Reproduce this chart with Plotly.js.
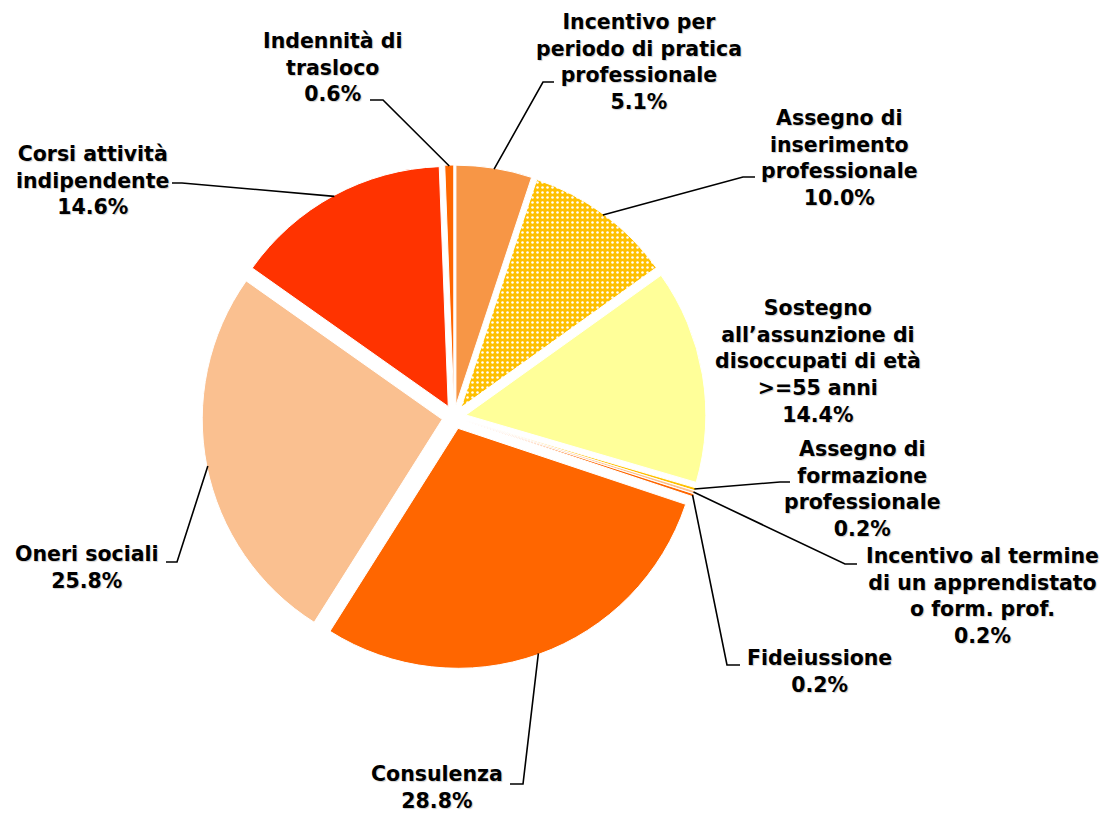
<!DOCTYPE html>
<html>
<head>
<meta charset="utf-8">
<script src="https://cdn.plot.ly/plotly-3.0.1.min.js"></script>
<style>html,body{margin:0;padding:0;background:#fff;}#chart{width:1110px;height:813px;}</style>
</head>
<body>
<div id="chart"></div>
<script>
// ---- data ----
var labels = [
  "Incentivo per<br>periodo di pratica<br>professionale",
  "Assegno di<br>inserimento<br>professionale",
  "Sostegno<br>all\u2019assunzione di<br>disoccupati di età<br>>=55 anni",
  "Assegno di<br>formazione<br>professionale",
  "Incentivo al termine<br>di un apprendistato<br>o form. prof.",
  "Fideiussione",
  "Consulenza",
  "Oneri sociali",
  "Corsi attività<br>indipendente",
  "Indennità di<br>trasloco"
];
var values = [5.1, 10.0, 14.4, 0.2, 0.2, 0.2, 28.8, 25.8, 14.6, 0.6];
var colors = ["#F79646", "#FFC000", "#FFFF99", "#FFC000", "#FAC090", "#FF6600", "#FF6600", "#FAC090", "#FF3300", "#FF6600"];
var patterns = ["", ".", "", "", "", "", "", "", "", ""];

// ---- layout constants (label placement, px) ----
var W = 1110, H = 813;
var pull = 0.05;
var domX = [0.18198, 0.63604], domY = [0.17712, 0.79704];
var labelPos = [
  [639, 62], [839, 157.5], [818, 361], [862, 488.5], [983, 596],
  [819, 671], [437, 787], [87, 567.5], [92, 180], [333, 68]
];
var leader = [
  [[543, 82], [554, 82]],
  [[743, 177], [755, 177]],
  null,
  [[780, 482], [790, 482]],
  [[845, 564], [857, 564]],
  [[727, 665], [740, 665]],
  [[523, 784], [510, 784]],
  [[177, 562], [166, 562]],
  [[182, 183], [172, 183]],
  [[383, 100], [370, 100]]
];

var total = values.reduce(function(a, b) { return a + b; }, 0);
var cx = (domX[0] + domX[1]) / 2 * W;
var cy = H * (1 - (domY[0] + domY[1]) / 2);
var r = Math.min((domX[1] - domX[0]) * W, (domY[1] - domY[0]) * H) / (2 * (1 + pull));

function px2paper(p) { return (p[0] / W).toFixed(5) + "," + (1 - p[1] / H).toFixed(5); }

var shapes = [], annotations = [];
var cum = 0;
for (var i = 0; i < values.length; i++) {
  var mid = (cum + values[i] / 2) / total * 2 * Math.PI;
  cum += values[i];
  var R = r * (1 + pull) - 1;
  var anchor = [cx + R * Math.sin(mid), cy - R * Math.cos(mid)];
  if (leader[i]) {
    shapes.push({
      type: "path", xref: "paper", yref: "paper",
      path: "M" + px2paper(anchor) + " L" + px2paper(leader[i][0]) + " L" + px2paper(leader[i][1]),
      line: {color: "#000000", width: 1.6}
    });
  }
  annotations.push({
    xref: "paper", yref: "paper",
    x: labelPos[i][0] / W, y: 1 - labelPos[i][1] / H,
    xanchor: "center", yanchor: "middle", align: "center",
    showarrow: false,
    text: labels[i] + "<br>" + values[i].toFixed(1) + "%",
    font: {family: "DejaVu Sans, Verdana, sans-serif", size: 20.5, weight: 700, color: "#000000",
           shadow: "1px 1px 1px rgba(0,0,0,0.2)"}
  });
}

var trace = {
  type: "pie",
  labels: labels,
  values: values,
  sort: false,
  direction: "clockwise",
  rotation: 0,
  pull: pull,
  textinfo: "none",
  hoverinfo: "skip",
  showlegend: false,
  domain: {x: domX, y: domY},
  marker: {
    colors: colors,
    line: {color: "#ffffff", width: 1},
    pattern: {shape: patterns, fgcolor: "#ffffff", bgcolor: colors, fgopacity: 1,
              fillmode: "replace", size: 5, solidity: 0.2}
  }
};

var layout = {
  width: W, height: H,
  margin: {l: 0, r: 0, t: 0, b: 0},
  paper_bgcolor: "#ffffff",
  plot_bgcolor: "#ffffff",
  showlegend: false,
  shapes: shapes,
  annotations: annotations
};

Plotly.newPlot("chart", [trace], layout, {displayModeBar: false, staticPlot: true});
</script>
</body>
</html>
